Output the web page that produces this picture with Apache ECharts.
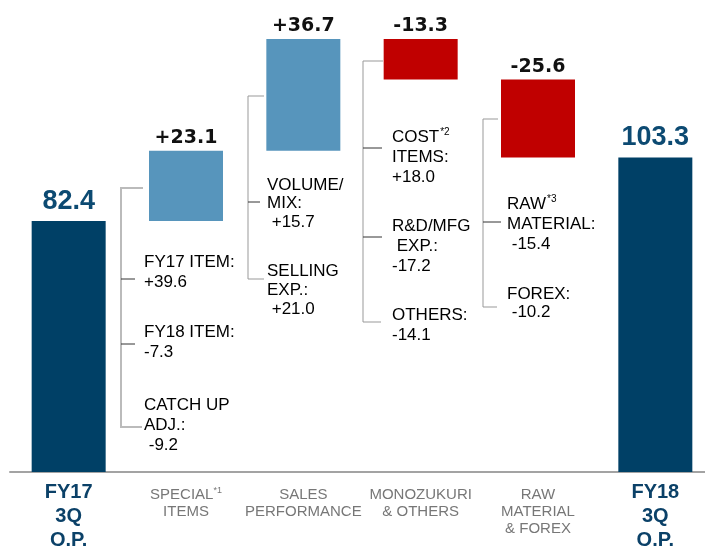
<!doctype html>
<html>
<head>
    <meta http-equiv="Content-Type" content="text/html; charset=utf-8" />
    <title>O.P. bridge</title>
    <script type="text/javascript" src="https://cdn.jsdelivr.net/npm/echarts@6/dist/echarts.min.js"></script>
    <style>
        html, body { margin: 0; padding: 0; background: #fff; }
        #main { width: 705px; height: 546px; }
    </style>
</head>
<body>
<div id="main"></div>
<script type="text/javascript">
    // data
    var categories = ['FY17\n3Q\nO.P.', 'SPECIAL*1\nITEMS', 'SALES\nPERFORMANCE', 'MONOZUKURI\n& OTHERS', 'RAW\nMATERIAL\n& FOREX', 'FY18\n3Q\nO.P.'];
    var startValue = 82.4;
    var endValue = 103.3;
    var deltas = [23.1, 36.7, -13.3, -25.6];

    // breakdown notes next to each step
    var notes = [
        { x: 144, y: 252, lh: 20.5, lines: ['FY17 ITEM:', '+39.6'] },
        { x: 144, y: 322, lh: 20.5, lines: ['FY18 ITEM:', '-7.3'] },
        { x: 144, y: 395, lh: 20, lines: ['CATCH UP', 'ADJ.:', ' -9.2'] },
        { x: 267, y: 176, lh: 18.5, lines: ['VOLUME/', 'MIX:', ' +15.7'] },
        { x: 267, y: 262, lh: 19, lines: ['SELLING', 'EXP.:', ' +21.0'] },
        { x: 392, y: 127, lh: 20, lines: ['COST*2', 'ITEMS:', '+18.0'] },
        { x: 392, y: 216, lh: 20, lines: ['R&D/MFG', ' EXP.:', '-17.2'] },
        { x: 392, y: 305, lh: 20, lines: ['OTHERS:', '-14.1'] },
        { x: 507, y: 194, lh: 20, lines: ['RAW*3', 'MATERIAL:', ' -15.4'] },
        { x: 507, y: 285, lh: 18.5, lines: ['FOREX:', ' -10.2'] }
    ];
    // bracket: vertical x, top y, top end x, bottom y, bottom end x, middle ticks
    var brackets = [
        { x: 121, top: 188, topEnd: 143, bottom: 427, bottomEnd: 142, ticks: [279, 344], tickEnd: 135, color: '#bbb', w: 2 },
        { x: 248, top: 96, topEnd: 264, bottom: 279, bottomEnd: 264, ticks: [202], tickEnd: 260, color: '#999', w: 1 },
        { x: 363, top: 61, topEnd: 383, bottom: 322, bottomEnd: 381, ticks: [148, 237], tickEnd: 382, color: '#999', w: 1 },
        { x: 483, top: 119, topEnd: 498, bottom: 307, bottomEnd: 497, ticks: [222], tickEnd: 501, color: '#999', w: 1 }
    ];

    var baseData = ['-'], upData = ['-'], downData = ['-'], totalData = [startValue];
    var run = startValue;
    deltas.forEach(function (d) {
        if (d >= 0) {
            baseData.push(run);
            upData.push(d);
            downData.push('-');
        } else {
            baseData.push(+(run + d).toFixed(1));
            upData.push('-');
            downData.push(-d);
        }
        totalData.push('-');
        run += d;
    });
    baseData.push('-'); upData.push('-'); downData.push('-'); totalData.push(endValue);

    var myChart = echarts.init(document.getElementById('main'));

    function wrapLines(lines, tag) {
        return lines.map(function (l) {
            return '{' + tag + '|' + l.replace(/\*(\d)/, '}{s|*$1') + '}';
        }).join('\n');
    }

    var graphics = [];
    notes.forEach(function (n) {
        graphics.push({
            type: 'text',
            x: n.x,
            y: n.y,
            style: {
                text: wrapLines(n.lines, 'n'),
                verticalAlign: 'top',
                rich: {
                    n: { fontFamily: 'Liberation Sans', fontSize: 17, color: '#3a3a3a', lineHeight: n.lh },
                    s: { fontFamily: 'Liberation Sans', fontSize: 10, color: '#3a3a3a', verticalAlign: 'top', lineHeight: 10, padding: [0, 0, 0, 1] }
                }
            }
        });
    });
    brackets.forEach(function (b) {
        graphics.push({
            type: 'polyline',
            shape: { points: [[b.topEnd, b.top], [b.x, b.top], [b.x, b.bottom], [b.bottomEnd, b.bottom]] },
            style: { stroke: b.color, lineWidth: b.w, fill: null }
        });
        b.ticks.forEach(function (t) {
            graphics.push({
                type: 'line',
                shape: { x1: b.x, y1: t, x2: b.tickEnd, y2: t },
                style: { stroke: '#333', lineWidth: 1 }
            });
        });
    });

    option = {
        backgroundColor: '#fff',
        animation: false,
        grid: { left: 10, right: -9, top: 0, bottom: 74, outerBoundsMode: 'none' },
        xAxis: {
            type: 'category',
            data: categories,
            axisLine: { lineStyle: { color: '#a3a3a3', width: 2 } },
            axisTick: { show: false },
            axisLabel: {
                interval: 0,
                margin: 8,
                formatter: function (value, idx) {
                    var lines = value.split('\n');
                    if (idx === 0 || idx === categories.length - 1) {
                        return wrapLines(lines, 't');
                    }
                    return '{p| }\n' + wrapLines(lines, 'd');
                },
                rich: {
                    t: { fontFamily: 'Liberation Sans', fontWeight: 'bold', fontSize: 20, color: '#0b4168', lineHeight: 24 },
                    d: { fontFamily: 'Liberation Sans', fontSize: 15, color: '#777', lineHeight: 17 },
                    p: { fontSize: 4, lineHeight: 6.5 },
                    s: { fontFamily: 'Liberation Sans', fontSize: 9, color: '#777', verticalAlign: 'top', lineHeight: 9 }
                }
            }
        },
        yAxis: {
            type: 'value',
            min: 0,
            max: 155,
            show: false,
            splitLine: { show: false }
        },
        series: [{
            name: 'base',
            type: 'bar',
            stack: 'w',
            barWidth: 74,
            silent: true,
            itemStyle: { color: 'transparent' },
            data: baseData
        }, {
            name: 'increase',
            type: 'bar',
            stack: 'w',
            itemStyle: { color: '#5795bc' },
            label: {
                show: true,
                position: 'top',
                distance: 3,
                fontFamily: 'DejaVu Sans',
                fontWeight: 'bold',
                fontSize: 19,
                color: '#111',
                formatter: function (p) { return '+' + p.value.toFixed(1); }
            },
            data: upData
        }, {
            name: 'decrease',
            type: 'bar',
            stack: 'w',
            itemStyle: { color: '#c00000' },
            label: {
                show: true,
                position: 'top',
                distance: 3,
                fontFamily: 'DejaVu Sans',
                fontWeight: 'bold',
                fontSize: 19,
                color: '#111',
                formatter: function (p) { return '-' + p.value.toFixed(1); }
            },
            data: downData
        }, {
            name: 'total',
            type: 'bar',
            stack: 'w',
            itemStyle: { color: '#004066' },
            label: {
                show: true,
                position: 'top',
                distance: 6,
                fontFamily: 'Liberation Sans',
                fontWeight: 'bold',
                fontSize: 27,
                color: '#0c4a72',
                formatter: function (p) { return p.value.toFixed(1); }
            },
            data: totalData
        }],
        graphic: graphics
    };
    myChart.setOption(option);
</script>
</body>
</html>
